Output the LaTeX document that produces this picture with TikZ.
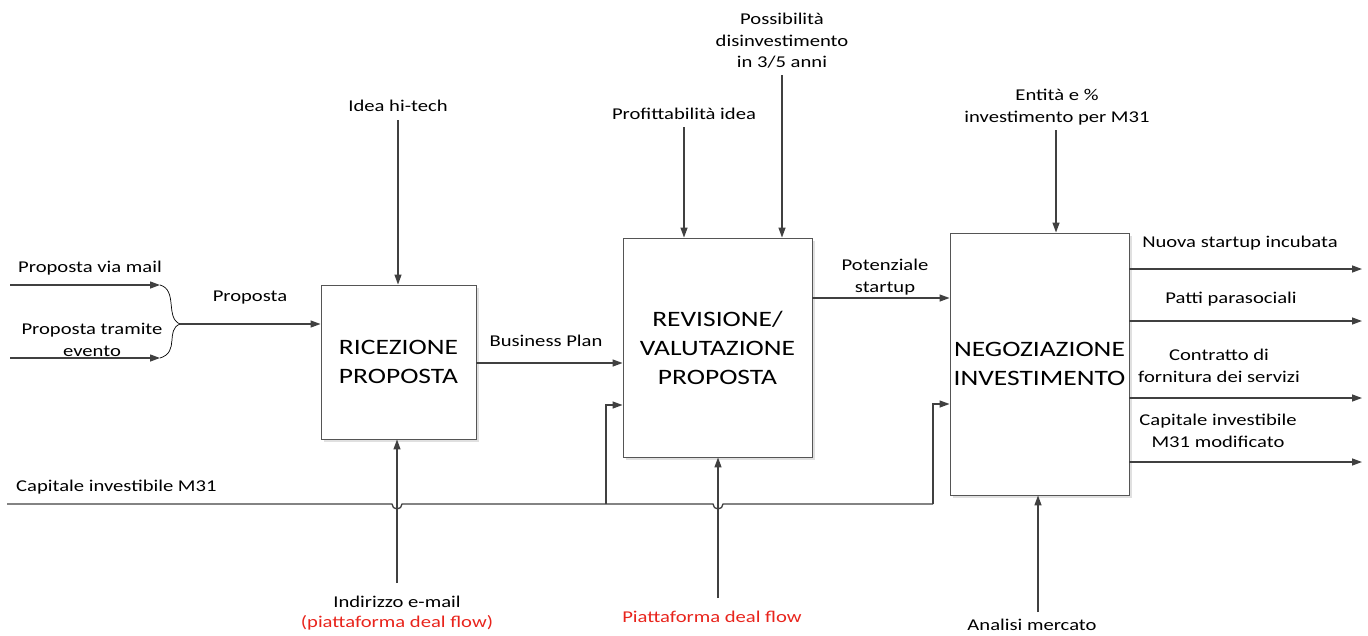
\documentclass[tikz,border=0pt]{standalone}
\usepackage{fontspec}
\setmainfont{Carlito}[FakeStretch=1.25]
\usetikzlibrary{arrows.meta,shadows}
\definecolor{ln}{HTML}{404040}
\definecolor{boxedge}{HTML}{555555}
\definecolor{redtxt}{HTML}{E8241C}
\begin{document}
\begin{tikzpicture}[x=1pt,y=-1pt,
  flow/.style={draw=ln,line width=1.3pt,-{Triangle[length=10pt,width=7pt]}},
  plain/.style={draw=ln,line width=1.3pt},
  act/.style={draw=boxedge,line width=0.9pt,fill=white,
    drop shadow={shadow xshift=2.5pt,shadow yshift=-2.5pt,fill=black!12,opacity=1},
    align=center,font=\fontsize{22}{29}\selectfont,inner sep=0pt},
  lbl/.style={font=\fontsize{16.5}{21.5}\selectfont,align=center,inner sep=0pt},
  redlbl/.style={lbl,text=redtxt}]
\useasboundingbox (0,0) rectangle (1368,635);

% activity boxes
\node[act,minimum width=155pt,minimum height=154pt] (ric) at (398.5,362) {RICEZIONE\\PROPOSTA};
\node[act,minimum width=189pt,minimum height=219pt] (rev) at (717.5,347.5) {REVISIONE/\\VALUTAZIONE\\PROPOSTA};
\node[act,minimum width=179pt,minimum height=262pt] (neg) at (1039.5,364) {NEGOZIAZIONE\\INVESTIMENTO};

% left inputs joined by a brace
\coordinate (mailS) at (10,285);
\coordinate (mailE) at (160,285);
\coordinate (evS) at (10,358);
\coordinate (evE) at (160,358);
\coordinate (brc) at (180,324);
\draw[flow] (mailS) -- (mailE);
\draw[flow] (evS) -- (evE);
\draw[draw=black,line width=0.7pt] (mailE) .. controls (178,290) and (165,318) .. (brc)
  .. controls (165,330) and (180,352) .. (evE);
\draw[flow] (brc) -- (brc -| ric.west);
\node[lbl] (tmail) at (90,268) {Proposta via mail};
\node[lbl] (tev) at (92,340) {Proposta tramite\\evento};
\node[lbl] (tprop) at (250,298) {Proposta};

% flows between boxes
\coordinate (bpS) at (476,363);
\draw[flow] (bpS) -- (bpS -| rev.west);
\node[lbl] (tbp) at (546,341) {Business Plan};
\coordinate (psS) at (812,298);
\draw[flow] (psS) -- (psS -| neg.west);
\node[lbl] (tps) at (885,277) {Potenziale\\startup};

% outputs
\foreach \yy/\nm in {269/o1,321/o2,398/o3,462/o4}{
  \coordinate (\nm) at (1129,\yy);
  \coordinate (\nm e) at (1362,\yy);
  \draw[flow] (\nm) -- (\nm e);}
\node[lbl] (to1) at (1240,243) {Nuova startup incubata};
\node[lbl] (to2) at (1231,299) {Patti parasociali};
\node[lbl] (to3) at (1219,366) {Contratto di\\fornitura dei servizi};
\node[lbl] (to4) at (1218,431) {Capitale investibile\\M31 modificato};

% controls
\node[lbl] (c1) at (398,106) {Idea hi-tech};
\coordinate (c1s) at (398,120);
\draw[flow] (c1s) -- (c1s |- ric.north);
\node[lbl] (c2) at (684,114) {Profittabilità idea};
\coordinate (c2s) at (684,127);
\draw[flow] (c2s) -- (c2s |- rev.north);
\node[lbl] (c3) at (782,41) {Possibilità\\disinvestimento\\in 3/5 anni};
\coordinate (c3s) at (782,75);
\draw[flow] (c3s) -- (c3s |- rev.north);
\node[lbl] (c4) at (1057,107) {Entità e \%\\investimento per M31};
\coordinate (c4s) at (1056,130);
\draw[flow] (c4s) -- (c4s |- neg.north);

% capital line with hops over the mechanism arrows
\node[lbl,anchor=west] (tcap) at (16,487) {Capitale investibile M31};
\coordinate (capS) at (7,504);
\coordinate (capE) at (933,504);
\coordinate (br2) at (606,504);
\coordinate (br2t) at (606,405);
\coordinate (capT) at (933,404);
\draw[plain] (capS) -- (392,504) arc[start angle=180,end angle=0,radius=5]
  -- (713,504) arc[start angle=180,end angle=0,radius=5] -- (capE);
\draw[flow] (capE) -- (capT) -- (capT -| neg.west);
\draw[flow] (br2) -- (br2t) -- (br2t -| rev.west);

% mechanisms
\coordinate (m1s) at (397,583);
\draw[flow] (m1s) -- (m1s |- ric.south);
\node[lbl] (m1a) at (397,602) {Indirizzo e-mail};
\node[redlbl] (m1b) at (397,623) {(piattaforma deal flow)};
\coordinate (m2s) at (718,598);
\draw[flow] (m2s) -- (m2s |- rev.south);
\node[redlbl] (m2) at (712,617) {Piattaforma deal flow};
\coordinate (m3s) at (1038,612);
\draw[flow] (m3s) -- (m3s |- neg.south);
\node[lbl] (m3) at (1032,625) {Analisi mercato};
\end{tikzpicture}
\end{document}
